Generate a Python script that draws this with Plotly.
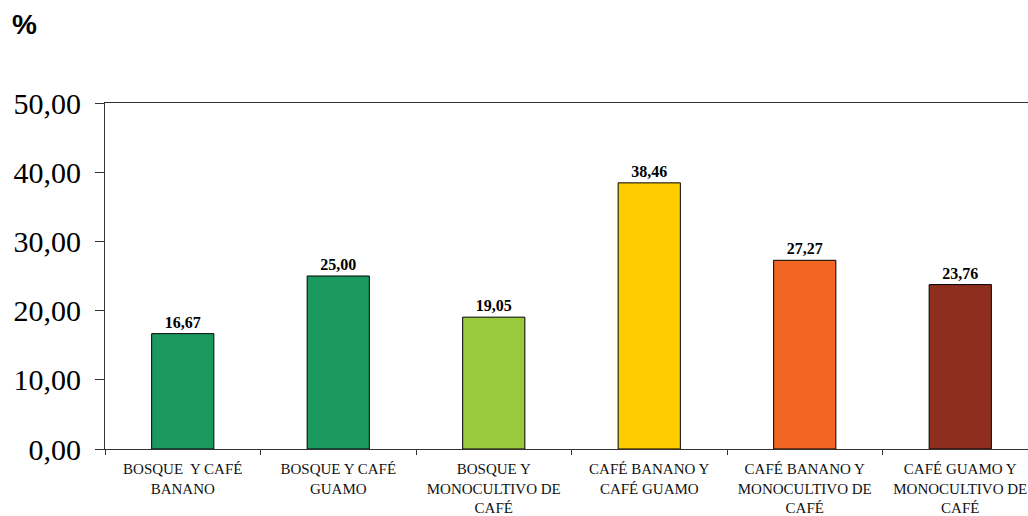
import plotly.graph_objects as go

categories = [
    "BOSQUE  Y CAFÉ<br>BANANO",
    "BOSQUE Y CAFÉ<br>GUAMO",
    "BOSQUE Y<br>MONOCULTIVO DE<br>CAFÉ",
    "CAFÉ BANANO Y<br>CAFÉ GUAMO",
    "CAFÉ BANANO Y<br>MONOCULTIVO DE<br>CAFÉ",
    "CAFÉ GUAMO Y<br>MONOCULTIVO DE<br>CAFÉ",
]
values = [16.67, 25.00, 19.05, 38.46, 27.27, 23.76]
labels = ["16,67", "25,00", "19,05", "38,46", "27,27", "23,76"]
colors = ["#1B9A5F", "#1B9A5F", "#99C93C", "#FFCC00", "#F26522", "#8E2E1E"]
y_tickvals = [0, 10, 20, 30, 40, 50]
y_ticktext = ["0,00", "10,00", "20,00", "30,00", "40,00", "50,00"]

SERIF = "Liberation Serif, Times New Roman, serif"

fig = go.Figure(
    go.Bar(
        x=categories,
        y=values,
        text=labels,
        textposition="outside",
        textfont=dict(family=SERIF, size=16, color="#000000", weight="bold"),
        cliponaxis=False,
        marker=dict(color=colors, line=dict(color="#000000", width=1)),
        width=0.4,
    )
)

fig.update_layout(
    width=1028,
    height=516,
    margin=dict(l=105, r=0, t=103, b=67),
    plot_bgcolor="white",
    paper_bgcolor="white",
    showlegend=False,
    font=dict(family=SERIF, color="#000000"),
    annotations=[
        dict(
            text="%", xref="paper", yref="paper", x=-95 / 923, y=1 + 96 / 346,
            xanchor="left", yanchor="top", showarrow=False,
            font=dict(family="Liberation Sans, Arial, sans-serif", size=28, color="#000000", weight="bold"),
        )
    ],
)

fig.update_xaxes(
    type="category",
    range=[-0.5, -0.5 + 923 / 155.5],
    tickson="boundaries",
    ticks="outside",
    ticklen=5,
    tickcolor="#333333",
    showline=True,
    linecolor="#333333",
    linewidth=1,
    mirror=True,
    showgrid=False,
    ticklabelstandoff=6,
    tickfont=dict(family=SERIF, size=15, color="#111111"),
)
fig.update_yaxes(
    range=[0, 50],
    tickvals=y_tickvals,
    ticktext=y_ticktext,
    ticks="outside",
    ticklen=9,
    tickcolor="#333333",
    showline=True,
    linecolor="#333333",
    linewidth=1,
    showgrid=False,
    zeroline=False,
    ticklabelstandoff=8,
    tickfont=dict(family=SERIF, size=30, color="#000000"),
)

fig.write_html("out.html")
